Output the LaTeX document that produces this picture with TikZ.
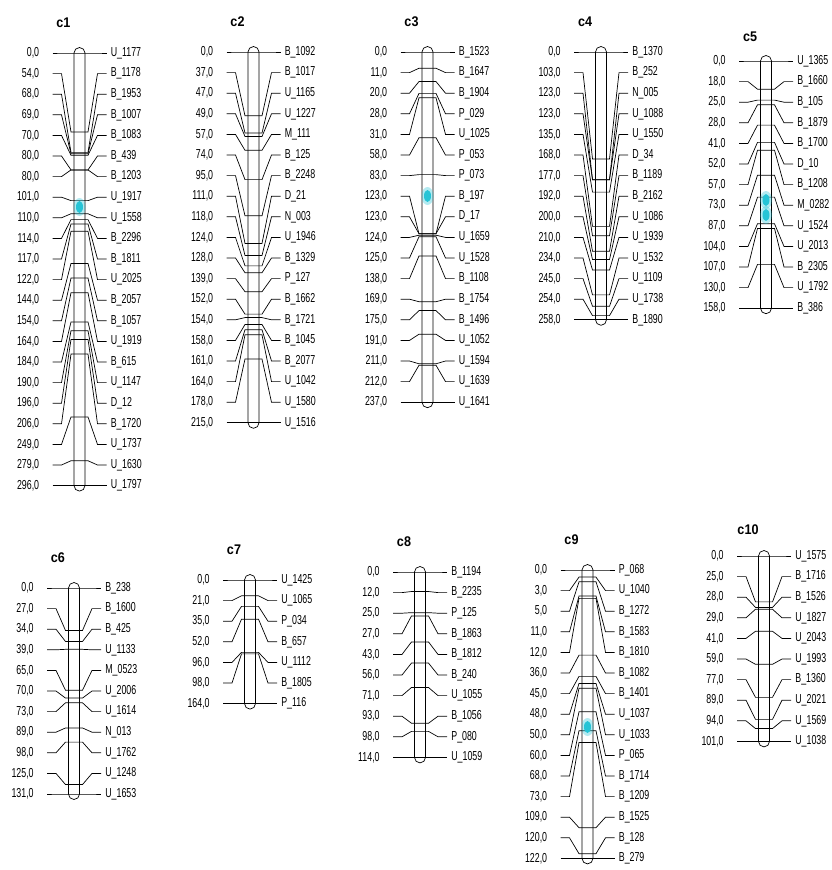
\documentclass[tikz,border=0pt]{standalone}
\usepackage{fontspec}
\setmainfont{Liberation Sans}[FakeStretch=0.68]
\newfontfamily\titlefont{Liberation Sans}[FakeStretch=0.9]
\definecolor{blobc}{RGB}{38,196,214}

% one linkage group: name, bar centre, first row, markers, length, title gap, pos/marker list
\newcommand{\drawchrom}[7]{%
  \node[ctitle] (#1) at (#2-16,#3-#6) {#1};
  \foreach \p/\m [count=\i from 0] in {#7} {
    \pgfmathsetmacro{\yr}{#3+\i*20.6}
    \pgfmathsetmacro{\ya}{#3+\p/#5*(#4-1)*20.6}
    \node[poslab] (#1p\i) at (#2-40,\yr) {\p,0};
    \node[mklab] (#1m\i) at (#2+31,\yr) {\m};
    \coordinate (#1ls\i) at (#2-27,\yr);
    \coordinate (#1le\i) at (#2-18,\yr);
    \coordinate (#1a\i) at (#2-8.5,\ya);
    \coordinate (#1b\i) at (#2+8.5,\ya);
    \coordinate (#1re\i) at (#2+18,\yr);
    \coordinate (#1rs\i) at (#2+27,\yr);
    \draw (#1ls\i) -- (#1le\i) -- (#1a\i) -- (#1b\i) -- (#1re\i) -- (#1rs\i);
  }
  \pgfmathsetmacro{\yb}{#3+(#4-1)*20.6}
  \draw (#2-5.5,#3) -- (#2-5.5,\yb) arc (180:0:5.5) -- (#2+5.5,#3) arc (0:-180:5.5);
}

\begin{document}
\begin{tikzpicture}[x=1pt,y=-1pt,line width=0.7pt,
  poslab/.style={anchor=east,inner sep=0pt,font=\fontsize{13}{13}\selectfont},
  mklab/.style={anchor=west,inner sep=0pt,font=\fontsize{13}{13}\selectfont},
  ctitle/.style={inner sep=0pt,font=\titlefont\bfseries\fontsize{14}{14}\selectfont},
  halo/.style={fill=blobc,opacity=0.35},
  blob/.style={fill=blobc}]

\useasboundingbox (0,0) rectangle (832,870);

% top row
\drawchrom{c1}{79.5}{53}{22}{296}{30}{0/U\_1177, 54/B\_1178, 68/B\_1953, 69/B\_1007,
  70/B\_1083, 80/B\_439, 80/B\_1203, 101/U\_1917, 110/U\_1558, 114/B\_2296,
  117/B\_1811, 122/U\_2025, 144/B\_2057, 154/B\_1057, 164/U\_1919, 184/B\_615,
  190/U\_1147, 196/D\_12, 206/B\_1720, 249/U\_1737, 279/U\_1630, 296/U\_1797}

\drawchrom{c2}{253.5}{52}{19}{215}{30}{0/B\_1092, 37/B\_1017, 47/U\_1165, 49/U\_1227,
  57/M\_111, 74/B\_125, 95/B\_2248, 111/D\_21, 118/N\_003, 124/U\_1946,
  128/B\_1329, 139/P\_127, 152/B\_1662, 154/B\_1721, 158/B\_1045, 161/B\_2077,
  164/U\_1042, 178/U\_1580, 215/U\_1516}

\drawchrom{c3}{427.5}{52}{18}{237}{30}{0/B\_1523, 11/B\_1647, 20/B\_1904, 28/P\_029,
  31/U\_1025, 58/P\_053, 83/P\_073, 123/B\_197, 123/D\_17, 124/U\_1659,
  125/U\_1528, 138/B\_1108, 169/B\_1754, 175/B\_1496, 191/U\_1052, 211/U\_1594,
  212/U\_1639, 237/U\_1641}

\drawchrom{c4}{601}{52}{14}{258}{30}{0/B\_1370, 103/B\_252, 123/N\_005, 123/U\_1088,
  135/U\_1550, 168/D\_34, 177/B\_1189, 192/B\_2162, 200/U\_1086, 210/U\_1939,
  234/U\_1532, 245/U\_1109, 254/U\_1738, 258/B\_1890}

\drawchrom{c5}{766}{61}{13}{158}{24}{0/U\_1365, 18/B\_1660, 25/B\_105, 28/B\_1879,
  41/B\_1700, 52/D\_10, 57/B\_1208, 73/M\_0282, 87/U\_1524, 104/U\_2013,
  107/B\_2305, 130/U\_1792, 158/B\_386}

% bottom row
\drawchrom{c6}{74}{588}{11}{131}{30}{0/B\_238, 27/B\_1600, 34/B\_425, 39/U\_1133,
  65/M\_0523, 70/U\_2006, 73/U\_1614, 89/N\_013, 98/U\_1762, 125/U\_1248,
  131/U\_1653}

\drawchrom{c7}{250}{580}{7}{164}{30}{0/U\_1425, 21/U\_1065, 35/P\_034, 52/B\_657,
  96/U\_1112, 98/B\_1805, 164/P\_116}

\drawchrom{c8}{420}{572}{10}{114}{30}{0/B\_1194, 12/B\_2235, 25/P\_125, 27/B\_1863,
  43/B\_1812, 56/B\_240, 71/U\_1055, 93/B\_1056, 98/P\_080, 114/U\_1059}

\drawchrom{c9}{587.5}{570}{15}{122}{30}{0/P\_068, 3/U\_1040, 5/B\_1272, 11/B\_1583,
  12/B\_1810, 36/B\_1082, 45/B\_1401, 48/U\_1037, 50/U\_1033, 60/P\_065,
  68/B\_1714, 73/B\_1209, 109/B\_1525, 120/B\_128, 122/B\_279}

\drawchrom{c10}{764}{556}{10}{101}{26}{0/U\_1575, 25/B\_1716, 28/B\_1526, 29/U\_1827,
  41/U\_2043, 59/U\_1993, 77/B\_1360, 89/U\_2021, 94/U\_1569, 101/U\_1038}

% highlighted spots
\coordinate (s1) at (79.5,207);
\coordinate (s3) at (427.5,196);
\coordinate (s5a) at (766,200);
\coordinate (s5b) at (766,215);
\coordinate (s9) at (587.5,727);
\foreach \s in {s1,s3,s5a,s5b,s9} {
  \fill[halo] (\s) ellipse (6 and 9);
  \fill[blob] (\s) ellipse (3.5 and 6);
}

\end{tikzpicture}
\end{document}
